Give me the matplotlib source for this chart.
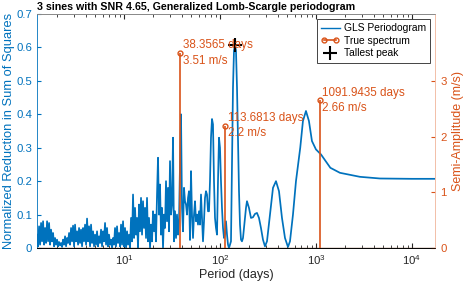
import matplotlib
matplotlib.use("Agg")
import matplotlib.pyplot as plt
from matplotlib.lines import Line2D
from matplotlib.legend_handler import HandlerLine2D

plt.rcParams['font.family'] = ['Liberation Sans', 'DejaVu Sans']
plt.rcParams['mathtext.fontset'] = 'custom'
plt.rcParams['mathtext.rm'] = 'Liberation Sans'
plt.rcParams['font.size'] = 8.2

BLUE = '#0072BD'
ORANGE = '#D95319'

# ---------------------------------------------------------
# GLS periodogram (period in days)
# ---------------------------------------------------------
period_noise = [
    1.241, 1.271, 1.302, 1.334, 1.366, 1.399, 1.433, 1.468, 1.503, 1.540,
    1.577, 1.616, 1.655, 1.695, 1.736, 1.778, 1.821, 1.866, 1.911, 1.957,
    2.005, 2.054, 2.103, 2.154, 2.207, 2.260, 2.315, 2.371, 2.429, 2.488,
    2.548, 2.610, 2.674, 2.738, 2.805, 2.873, 2.943, 3.014, 3.087, 3.162,
    3.239, 3.318, 3.398, 3.481, 3.565, 3.652, 3.740, 3.831, 3.924, 4.019,
    4.117, 4.217, 4.319, 4.424, 4.532, 4.642, 4.754, 4.870, 4.988, 5.109,
    5.233, 5.360, 5.490, 5.623, 5.760, 5.900, 6.043, 6.190, 6.340, 6.494,
    6.651, 6.813, 6.978, 7.148, 7.321, 7.499, 7.681, 7.867, 8.058, 8.254,
    8.454, 8.660, 8.870, 9.085, 9.306, 9.532, 9.763, 10.00, 10.24, 10.49,
    10.75, 11.01, 11.28, 11.55, 11.83, 12.12, 12.41, 12.71, 13.02, 13.34,
    13.66, 13.99, 14.33, 14.68, 15.03, 15.40, 15.77, 16.16, 16.55, 16.95,
    17.36, 17.78, 18.22, 18.66, 19.11, 19.57, 20.05, 20.54, 21.03, 21.54,
    22.07, 22.60, 23.15, 23.71, 24.29, 24.88, 25.48, 26.10, 26.74, 27.38,
    28.05, 28.73, 29.43, 30.14, 30.87, 31.62, 32.39, 33.18, 33.98, 34.81,
    35.65, 36.52,
]
power_noise = [
    0.040, 0.005, 0.065, 0.010, 0.075, 0.020, 0.080, 0.010, 0.060, 0.015,
    0.080, 0.020, 0.075, 0.010, 0.055, 0.020, 0.045, 0.005, 0.030, 0.010,
    0.025, 0.005, 0.018, 0.008, 0.015, 0.003, 0.025, 0.010, 0.035, 0.005,
    0.030, 0.015, 0.045, 0.010, 0.060, 0.020, 0.067, 0.005, 0.070, 0.020,
    0.050, 0.010, 0.060, 0.015, 0.055, 0.005, 0.060, 0.020, 0.070, 0.010,
    0.088, 0.020, 0.065, 0.005, 0.070, 0.015, 0.050, 0.005, 0.040, 0.010,
    0.050, 0.005, 0.035, 0.015, 0.055, 0.005, 0.050, 0.020, 0.075, 0.010,
    0.060, 0.005, 0.040, 0.010, 0.025, 0.000, 0.030, 0.010, 0.060, 0.005,
    0.065, 0.015, 0.045, 0.005, 0.070, 0.010, 0.080, 0.005, 0.060, 0.000,
    0.050, 0.010, 0.040, 0.000, 0.090, 0.020, 0.160, 0.030, 0.120, 0.040,
    0.090, 0.000, 0.130, 0.050, 0.150, 0.040, 0.140, 0.060, 0.120, 0.030,
    0.150, 0.020, 0.090, 0.000, 0.070, 0.020, 0.110, 0.050, 0.100, 0.020,
    0.160, 0.270, 0.100, 0.190, 0.040, 0.120, 0.000, 0.100, 0.060, 0.200,
    0.080, 0.180, 0.050, 0.260, 0.100, 0.130, 0.330, 0.020, 0.110, 0.030,
    0.100, 0.040,
]

period_mid = [
    37.40, 38.31, 39.24, 40.19, 41.17, 42.17, 43.19, 44.24, 45.32, 46.42,
    47.54, 48.70, 49.88, 51.09, 52.33, 53.60, 54.90, 56.23, 57.60, 59.00,
    60.43, 61.90, 63.40, 64.94, 66.51, 68.13, 69.78, 71.48, 73.21, 74.99,
    76.81, 78.67, 80.58, 82.54, 84.54, 86.60, 88.70, 90.85, 93.06, 95.32,
    97.63, 100.0, 102.4, 104.9, 107.5, 110.1, 112.7, 115.5, 118.3, 121.2,
    124.1, 127.1, 130.2, 133.4, 136.6, 139.9, 143.3, 146.8, 150.4, 154.0,
    157.8, 161.6, 165.5, 169.5,
]
power_mid = [
    0.080, 0.250, 0.400, 0.120, 0.050, 0.180, 0.140, 0.130, 0.100, 0.150,
    0.170, 0.024, 0.230, 0.100, 0.030, 0.100, 0.140, 0.080, 0.100, 0.070,
    0.110, 0.070, 0.160, 0.090, 0.020, 0.080, 0.150, 0.170, 0.160, 0.110,
    0.110, 0.200, 0.330, 0.386, 0.370, 0.200, 0.090, 0.060, 0.040, 0.200,
    0.330, 0.300, 0.200, 0.120, 0.060, 0.030, 0.040, 0.080, 0.040, 0.010,
    0.000, 0.010, 0.020, 0.250, 0.480, 0.590, 0.607, 0.590, 0.480, 0.320,
    0.170, 0.070, 0.025, 0.020,
]

period_smooth = [
    173.7, 177.8, 186.6, 191.1, 200.5, 210.3, 220.6, 231.5, 242.9, 254.8,
    267.3, 280.5, 294.3, 308.9, 331.9, 356.7, 383.3, 411.9, 442.6, 475.7,
    511.1, 536.3, 576.2, 619.2, 686.0, 732.0, 787.0, 845.0, 908.6, 1000.0,
    1128.0, 1413.0, 1778.0, 2873.0, 4642.0, 10000.0, 17380.0,
]
power_smooth = [
    0.030, 0.060, 0.120, 0.140, 0.120, 0.090, 0.092, 0.102, 0.105, 0.090,
    0.060, 0.025, 0.005, 0.020, 0.100, 0.180, 0.200, 0.170, 0.090, 0.030,
    0.003, 0.020, 0.100, 0.200, 0.300, 0.380, 0.410, 0.380, 0.320, 0.295,
    0.280, 0.240, 0.225, 0.213, 0.208, 0.207, 0.207,
]

# true signals
true_periods = [38.3565, 113.6813, 1091.9435]
true_amps = [3.51, 2.2, 2.66]

peak_period = 143.3
peak_power = 0.607

period = period_noise + period_mid + period_smooth
power = power_noise + power_mid + power_smooth

# ---------------------------------------------------------
# Figure
# ---------------------------------------------------------
fig = plt.figure(figsize=(4.63, 2.81), dpi=100)
ax = fig.add_axes([0.080, 0.1174, 0.8595, 0.8326])
ax2 = ax.twinx()

ax.plot(period, power, color=BLUE, lw=1.25)
ax.plot(peak_period, peak_power, '+', color='k', ms=10, mew=1.5, zorder=5)

ax2.axhline(0, color='#7d4a2e', lw=1.0)
ax2.vlines(true_periods, 0, true_amps, color=ORANGE, lw=1.2)
ax2.plot(true_periods, true_amps, 'o', color=ORANGE, mfc='none', ms=3.5, mew=1.0)

for p, a in zip(true_periods, true_amps):
    ax2.annotate(f"{p:.4f} days\n{a:g} m/s", (p, a), xytext=(2, 0),
                 textcoords='offset points', ha='left', va='center',
                 color=ORANGE, fontsize=8.4, linespacing=1.35)

ax.set_xscale('log')
ax.set_xlim(1.24, 17400)
ax.set_ylim(0, 0.7)
ax2.set_ylim(0, 1.2 * max(true_amps))
ax.set_yticks([0, 0.1, 0.2, 0.3, 0.4, 0.5, 0.6, 0.7])
ax.set_yticklabels(['0', '0.1', '0.2', '0.3', '0.4', '0.5', '0.6', '0.7'])
ax2.set_yticks([0, 1, 2, 3])

ax.tick_params(axis='x', which='both', direction='in', top=True, colors='#262626')
ax.tick_params(axis='x', which='major', length=3.5)
ax.tick_params(axis='x', which='minor', length=2)
ax.tick_params(axis='y', direction='in', colors=BLUE, length=3)
ax2.tick_params(axis='y', direction='in', colors=ORANGE, length=3, pad=4)

ax.spines['left'].set_color(BLUE)
ax2.spines['left'].set_visible(False)
ax2.spines['right'].set_color('#f0b49a')
ax.spines['right'].set_visible(False)
ax.spines['top'].set_color('#262626')
ax2.spines['top'].set_color('#999999')
for sp in ax.spines.values():
    sp.set_linewidth(0.6)
for sp in ax2.spines.values():
    sp.set_linewidth(0.6)

ax.set_xlabel("Period (days)", color='#262626', labelpad=2, fontsize=9)
ax.set_ylabel("Normalized Reduction in Sum of Squares", color=BLUE,
              labelpad=1, fontsize=9.3)
ax2.set_ylabel("Semi-Amplitude (m/s)", color=ORANGE, labelpad=4, fontsize=9)
ax.set_title("3 sines with SNR 4.65, Generalized Lomb-Scargle periodogram",
             fontweight='bold', fontsize=7.7, loc='left', pad=3)

h_gls = Line2D([], [], color=BLUE, lw=1.0)
h_true = Line2D([0, 1], [0, 0], color=ORANGE, lw=1.2, marker='o', mfc='none',
                ms=3.5, markevery=[1])
h_peak = Line2D([], [], color='k', marker='+', ls='none', ms=10, mew=1.5)
leg = ax2.legend([h_gls, h_true, h_peak],
                 ['GLS Periodogram', 'True spectrum', 'Tallest peak'],
                 loc='upper right', fontsize=7.4, handlelength=1.8,
                 handletextpad=0.4, borderpad=0.4, labelspacing=0.25,
                 borderaxespad=0.5, fancybox=False, framealpha=1,
                 edgecolor='#262626',
                 handler_map={h_true: HandlerLine2D(numpoints=2)})
leg.get_frame().set_linewidth(0.6)

fig.savefig("out.png", dpi=100)
